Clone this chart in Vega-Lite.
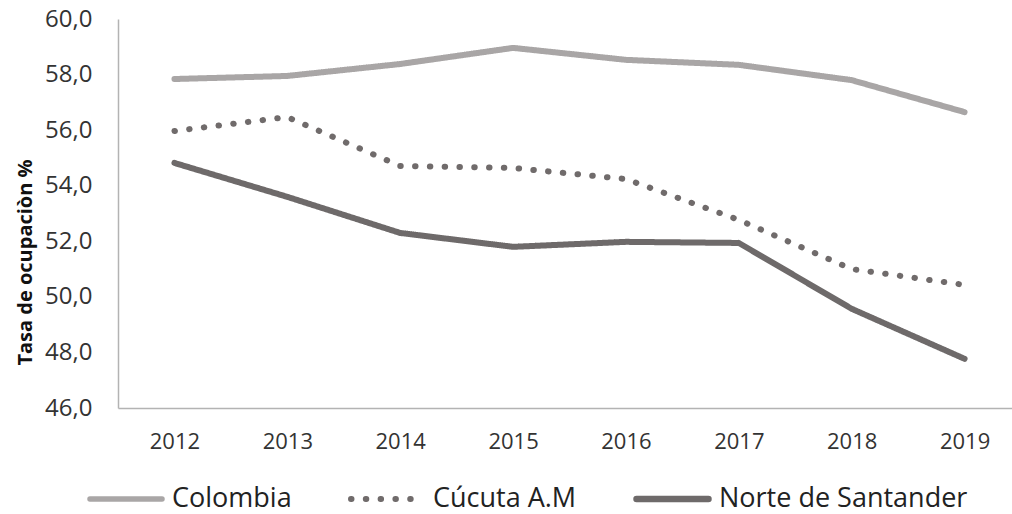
{
  "$schema": "https://vega.github.io/schema/vega-lite/v6.json",
  "width": 903,
  "height": 389,
  "autosize": {"type": "none"},
  "padding": {"left": 118, "top": 19, "right": 0, "bottom": 106},
  "background": "white",
  "config": {"view": {"stroke": null}, "font": "Open Sans"},
  "data": {
    "values": [
      {"year": "2012", "serie": "Colombia", "tasa": 57.84},
      {"year": "2013", "serie": "Colombia", "tasa": 57.95},
      {"year": "2014", "serie": "Colombia", "tasa": 58.38},
      {"year": "2015", "serie": "Colombia", "tasa": 58.96},
      {"year": "2016", "serie": "Colombia", "tasa": 58.53},
      {"year": "2017", "serie": "Colombia", "tasa": 58.35},
      {"year": "2018", "serie": "Colombia", "tasa": 57.80},
      {"year": "2019", "serie": "Colombia", "tasa": 56.65},
      {"year": "2012", "serie": "Cúcuta A.M", "tasa": 55.97},
      {"year": "2013", "serie": "Cúcuta A.M", "tasa": 56.47},
      {"year": "2014", "serie": "Cúcuta A.M", "tasa": 54.71},
      {"year": "2015", "serie": "Cúcuta A.M", "tasa": 54.64},
      {"year": "2016", "serie": "Cúcuta A.M", "tasa": 54.24},
      {"year": "2017", "serie": "Cúcuta A.M", "tasa": 52.77},
      {"year": "2018", "serie": "Cúcuta A.M", "tasa": 51.0},
      {"year": "2019", "serie": "Cúcuta A.M", "tasa": 50.43},
      {"year": "2012", "serie": "Norte de Santander", "tasa": 54.82},
      {"year": "2013", "serie": "Norte de Santander", "tasa": 53.6},
      {"year": "2014", "serie": "Norte de Santander", "tasa": 52.3},
      {"year": "2015", "serie": "Norte de Santander", "tasa": 51.8},
      {"year": "2016", "serie": "Norte de Santander", "tasa": 51.98},
      {"year": "2017", "serie": "Norte de Santander", "tasa": 51.94},
      {"year": "2018", "serie": "Norte de Santander", "tasa": 49.57},
      {"year": "2019", "serie": "Norte de Santander", "tasa": 47.77}
    ]
  },
  "mark": {"type": "line", "strokeCap": "round", "strokeJoin": "round", "strokeWidth": 6},
  "encoding": {
    "x": {
      "field": "year", "type": "ordinal",
      "scale": {"type": "point", "padding": 0.5},
      "axis": {
        "title": null, "labelAngle": 0, "ticks": false, "labelPadding": 23,
        "labelFontSize": 22, "labelColor": "#333333", "labelFont": "Open Sans",
        "domainColor": "#b3b3b3", "domainWidth": 1.5, "grid": false
      }
    },
    "y": {
      "field": "tasa", "type": "quantitative",
      "scale": {"domain": [46, 60], "nice": false, "zero": false},
      "axis": {
        "title": "Tasa de ocupaciòn %", "titleFontSize": 20, "titleFontWeight": "bold",
        "titleColor": "#111111", "titleFont": "Open Sans",
        "titleX": -87, "titleY": 243, "titleAlign": "center", "titleAngle": -90, "titleBaseline": "alphabetic",
        "values": [46, 48, 50, 52, 54, 56, 58, 60],
        "labelExpr": "replace(format(datum.value, '.1f'), '.', ',')",
        "ticks": false, "labelPadding": 26, "labelFontSize": 24, "labelColor": "#333333",
        "labelFont": "Open Sans", "domainColor": "#b3b3b3", "domainWidth": 1.5, "grid": false
      }
    },
    "color": {
      "field": "serie", "type": "nominal",
      "scale": {"domain": ["Colombia", "Cúcuta A.M", "Norte de Santander"], "range": ["#a9a6a6", "#706b6b", "#6e6a6a"]},
      "legend": {
        "title": null, "orient": "none", "direction": "horizontal",
        "legendX": -31, "legendY": 465, "clipHeight": 30,
        "symbolType": "stroke", "symbolSize": 5184, "symbolStrokeWidth": 6,
        "labelFontSize": 27, "labelColor": "#222222", "labelFont": "Open Sans",
        "labelOffset": 7, "columnPadding": 56, "labelLimit": 400,
        "encode": {"symbols": {"update": {"strokeCap": {"value": "round"}}}}
      }
    },
    "strokeDash": {
      "field": "serie", "type": "nominal",
      "scale": {"domain": ["Colombia", "Cúcuta A.M", "Norte de Santander"], "range": [[1, 0], [0.5, 14.3], [1, 0]]},
      "legend": null
    },
    "strokeWidth": {
      "field": "serie", "type": "nominal",
      "scale": {"domain": ["Colombia", "Cúcuta A.M", "Norte de Santander"], "range": [5.5, 6.5, 6]},
      "legend": null
    }
  }
}
